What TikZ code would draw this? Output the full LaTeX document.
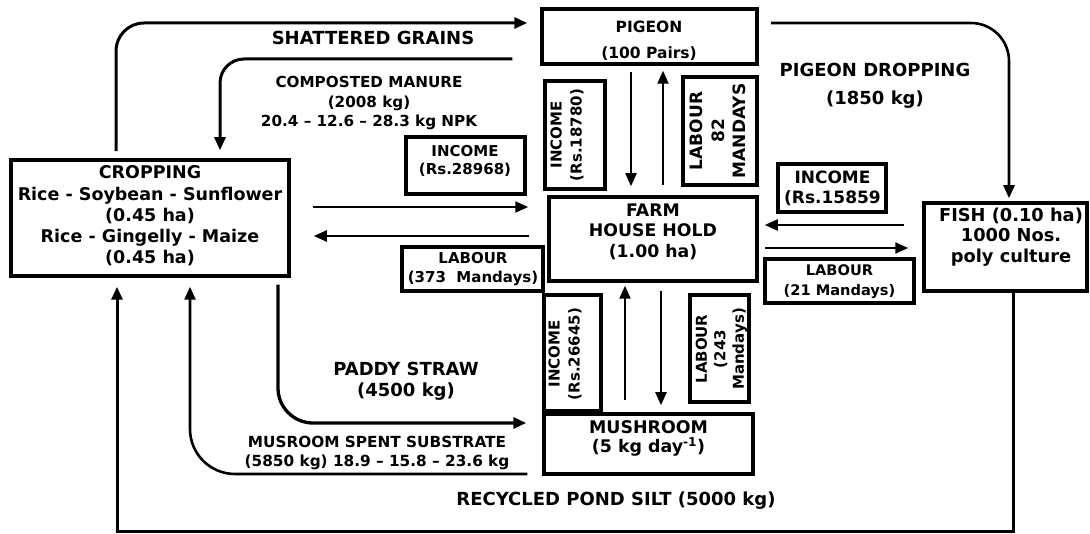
\documentclass[tikz,border=0pt]{standalone}
\usepackage{fontspec}
\setmainfont{DejaVu Sans}
\usetikzlibrary{arrows.meta}
\newcommand\fsMid{\fontsize{15}{18.5}\selectfont\bfseries}
\begin{document}
\begin{tikzpicture}[x=1pt,y=-1pt,
  box/.style={draw, line width=3.5pt, inner sep=0pt},
  txt/.style={align=center, inner sep=0pt, text=black},
  arr/.style={line width=2.2pt, -{Triangle[length=13pt,width=11pt]}},
  flow/.style={line width=3pt, -{Triangle[length=13pt,width=11pt]}}]
\useasboundingbox (0,0) rectangle (1090,534);

% main boxes
\node[box, minimum width=215pt, minimum height=55pt] (pigeon) at (649.5,36.5) {};
\node[txt, font=\fontsize{15.5}{26}\selectfont\bfseries] at (649,41) {PIGEON\\(100 Pairs)};

\node[box, minimum width=278pt, minimum height=116pt] (crop) at (150,218) {};
\node[txt, font=\fontsize{17.5}{21.2}\selectfont\bfseries] at (150,216) {CROPPING\\Rice - Soybean - Sunflower\\(0.45 ha)\\Rice - Gingelly - Maize\\(0.45 ha)};

\node[box, minimum width=208pt, minimum height=84pt] (farm) at (653,239) {};
\node[txt, font=\fontsize{17.3}{20.5}\selectfont\bfseries] at (653,231.5) {FARM\\HOUSE HOLD\\(1.00 ha)};

\node[box, minimum width=163pt, minimum height=88pt] (fish) at (1005.5,247) {};
\node[txt, font=\fontsize{17.8}{20.5}\selectfont\bfseries] at (1011,237) {FISH (0.10 ha)\\1000 Nos.\\poly culture};

\node[box, minimum width=209pt, minimum height=60pt] (mushroom) at (648.5,444) {};
\node[txt, font=\fontsize{17.4}{19}\selectfont\bfseries] at (648.5,438.5) {MUSHROOM\\(5 kg day\textsuperscript{-1})};

% small label boxes
\node[box, minimum width=119pt, minimum height=57pt] (inc1) at (465.5,165.5) {};
\node[txt, font=\fsMid] at (465,161) {INCOME\\(Rs.28968)};

\node[box, minimum width=141pt, minimum height=44pt] (lab1) at (472.5,269) {};
\node[txt, font=\fsMid] at (473,269) {LABOUR\\(373~~Mandays)};

\node[box, minimum width=108pt, minimum height=48pt] (inc2) at (832,188) {};
\node[txt, font=\fontsize{17}{19.5}\selectfont\bfseries] at (832.5,188.5) {INCOME\\(Rs.15859};

\node[box, minimum width=149pt, minimum height=44pt] (lab2) at (839.5,281) {};
\node[txt, font=\fontsize{14.6}{20}\selectfont\bfseries] at (839.5,282) {LABOUR\\(21 Mandays)};

\node[box, minimum width=60pt, minimum height=108pt] (inc3) at (575,135) {};
\node[txt, font=\fontsize{15}{20}\selectfont\bfseries, rotate=90] at (567,135) {INCOME\\(Rs.18780)};

\node[box, minimum width=74pt, minimum height=108pt] (lab3) at (720,131) {};
\node[txt, font=\fontsize{17}{21.5}\selectfont\bfseries, rotate=90] at (718,131) {LABOUR\\82\\MANDAYS};

\node[box, minimum width=57pt, minimum height=116pt] (inc4) at (572.5,353) {};
\node[txt, font=\fontsize{15}{20}\selectfont\bfseries, rotate=90] at (565,354) {INCOME\\(Rs.26645)};

\node[box, minimum width=59pt, minimum height=107pt] (lab4) at (719.5,348.5) {};
\node[txt, font=\fontsize{15}{18.5}\selectfont\bfseries, rotate=90] at (721.5,349) {LABOUR\\(243\\Mandays)};

% flow labels
\node[txt, font=\fontsize{18}{21}\selectfont\bfseries] (lshat) at (373,38) {SHATTERED GRAINS};
\node[txt, font=\fontsize{15.2}{19.5}\selectfont\bfseries] (lcomp) at (369,103.5) {COMPOSTED MANURE\\(2008 kg)\\20.4 – 12.6 – 28.3 kg NPK};
\node[txt, font=\fontsize{18}{28}\selectfont\bfseries] (ldrop) at (875,86) {PIGEON DROPPING\\(1850 kg)};
\node[txt, font=\fontsize{18}{21}\selectfont\bfseries] (lpaddy) at (406,381.5) {PADDY STRAW\\(4500 kg)};
\node[txt, font=\fontsize{15.3}{19}\selectfont\bfseries] (lmss) at (377,452.5) {MUSROOM SPENT SUBSTRATE\\(5850 kg) 18.9 – 15.8 – 23.6 kg};
\node[txt, font=\fontsize{18}{21}\selectfont\bfseries] (lsilt) at (616,501) {RECYCLED POND SILT (5000 kg)};

% arrows between pigeon and farm
\draw[arr] ([xshift=-18.5pt,yshift=-6pt]pigeon.south) -- ([xshift=-22pt,yshift=9pt]farm.north);
\draw[arr] ([xshift=10pt,yshift=10pt]farm.north) -- ([xshift=13.5pt,yshift=-5pt]pigeon.south);
% cropping <-> farm
\draw[arr] ([xshift=22pt,yshift=11pt]crop.east) -- ([xshift=-19pt,yshift=32pt]farm.west);
\draw[arr] ([xshift=-18pt,yshift=3pt]farm.west) -- ([xshift=23pt,yshift=-18pt]crop.east);
% fish <-> farm
\draw[arr] ([xshift=-18pt,yshift=22pt]fish.west) -- ([xshift=6pt,yshift=14pt]farm.east);
\draw[arr] ([xshift=6pt,yshift=-9pt]farm.east) -- ([xshift=-14pt,yshift=-1pt]fish.west);
% mushroom <-> farm
\draw[arr] ([xshift=-23.5pt,yshift=12pt]mushroom.north) -- ([xshift=-28pt,yshift=-3pt]farm.south);
\draw[arr] ([xshift=8pt,yshift=-8pt]farm.south) -- ([xshift=12.5pt,yshift=7pt]mushroom.north);

% curved flows
\draw[flow, rounded corners=28pt] ([xshift=-34pt,yshift=7pt]crop.north) |- ([xshift=-13pt,yshift=13.5pt]pigeon.west);
\draw[flow, rounded corners=24pt] ([xshift=-28pt,yshift=-22.5pt]pigeon.west) -| ([xshift=70pt,yshift=8pt]crop.north);
\draw[flow, line width=2.6pt, rounded corners=38pt] ([xshift=12pt,yshift=13.5pt]pigeon.east) -| ([xshift=3.5pt,yshift=3pt]fish.north);
\draw[flow, line width=3.3pt, rounded corners=35pt] ([xshift=128pt,yshift=-7pt]crop.south) |- ([xshift=-16pt,yshift=21pt]mushroom.west);
\draw[flow, line width=2.6pt, rounded corners=45pt] ([xshift=-15pt,yshift=-30pt]mushroom.west) -| ([xshift=40pt,yshift=-9pt]crop.south);
\coordinate (siltcorner) at (117,531);
\draw[flow] ([xshift=7.5pt]fish.south) |- (siltcorner) -- ([xshift=-33pt,yshift=-9pt]crop.south);
\end{tikzpicture}
\end{document}
